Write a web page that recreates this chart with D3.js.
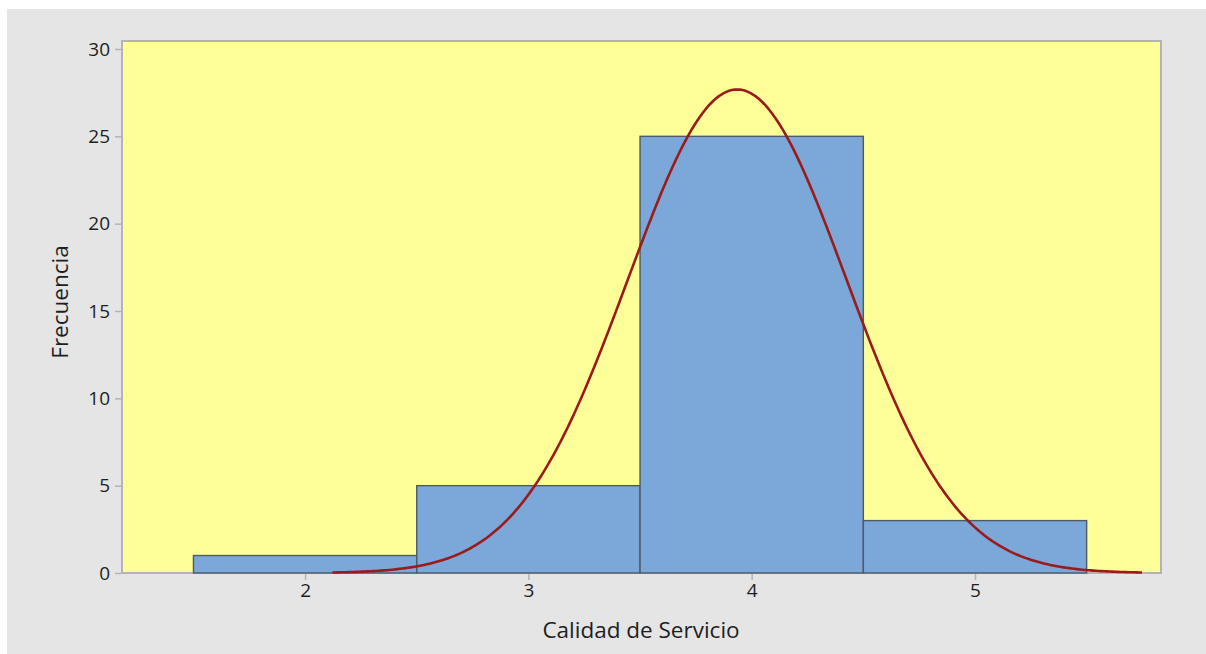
<!DOCTYPE html>
<html>
<head>
<meta charset="utf-8">
<script src="https://cdn.jsdelivr.net/npm/d3@7"></script>
<style>
  html, body { margin: 0; padding: 0; background: #ffffff; }
  svg { display: block; }
  text { font-family: "Open Sans", "Noto Sans", sans-serif; fill: #1e1e1e; font-weight: 500; }
</style>
</head>
<body>
<svg id="chart" width="1206" height="654"></svg>
<script>
// Histogram bins (lower edge, upper edge) and counts
const binStart = [1.5, 2.5, 3.5, 4.5];
const binEnd   = [2.5, 3.5, 4.5, 5.5];
const counts   = [1, 5, 25, 3];

// Fitted normal curve parameters
const fitMean = 3.935;
const fitSd = 0.49;
const binWidth = 1;

const xTicks = [2, 3, 4, 5];
const yTicks = [0, 5, 10, 15, 20, 25, 30];

const W = 1206, H = 654;
const plot = { left: 122, top: 41, right: 1161, bottom: 573 };

const svg = d3.select("#chart");

// outer panel
svg.append("rect").attr("x", 7).attr("y", 9).attr("width", W - 7).attr("height", H - 9)
  .attr("fill", "#e5e5e5");

const x = d3.scaleLinear().domain([1.18, 5.833]).range([plot.left, plot.right]);
const y = d3.scaleLinear().domain([0, 30]).range([plot.bottom, 49]);

// plot background
svg.append("rect")
  .attr("x", plot.left).attr("y", plot.top)
  .attr("width", plot.right - plot.left).attr("height", plot.bottom - plot.top)
  .attr("fill", "#ffff99")
  .attr("stroke", "#b4b4b4").attr("stroke-width", 2);

// bars
const bins = counts.map((c, i) => ({ x0: binStart[i], x1: binEnd[i], n: c }));
svg.append("g").selectAll("rect").data(bins).join("rect")
  .attr("x", d => x(d.x0))
  .attr("y", d => y(d.n))
  .attr("width", d => x(d.x1) - x(d.x0))
  .attr("height", d => y(0) - y(d.n))
  .attr("fill", "#7ba7d9")
  .attr("stroke", "#4d5a68")
  .attr("stroke-width", 1.4);

// normal curve scaled to counts
const n = d3.sum(counts);
const density = v => n * binWidth / (fitSd * Math.sqrt(2 * Math.PI)) *
  Math.exp(-0.5 * Math.pow((v - fitMean) / fitSd, 2));
const lo = fitMean - 3.7 * fitSd, hi = fitMean + 3.7 * fitSd;
const pts = d3.range(0, 301).map(i => lo + (hi - lo) * i / 300);
svg.append("path")
  .datum(pts)
  .attr("fill", "none")
  .attr("stroke", "#9b1b1b")
  .attr("stroke-width", 2.6)
  .attr("d", d3.line().x(v => x(v)).y(v => y(density(v))));

// y axis
const yAxis = d3.axisLeft(y).tickValues(yTicks).tickFormat(d3.format("d")).tickSize(6).tickPadding(5);
const gy = svg.append("g").attr("transform", `translate(${plot.left - 1},0)`).call(yAxis);
gy.select(".domain").remove();
gy.selectAll(".tick line").attr("stroke", "#b4b4b4").attr("stroke-width", 1.5);
gy.selectAll(".tick text").style("font-size", "19px").attr("fill", "#1e1e1e");

// x axis
const xAxis = d3.axisBottom(x).tickValues(xTicks).tickFormat(d3.format("d")).tickSize(6).tickPadding(4);
const gx = svg.append("g").attr("transform", `translate(0,${plot.bottom + 1})`).call(xAxis);
gx.select(".domain").remove();
gx.selectAll(".tick line").attr("stroke", "#b4b4b4").attr("stroke-width", 1.5);
gx.selectAll(".tick text").style("font-size", "19px").attr("fill", "#1e1e1e");

// axis titles
svg.append("text")
  .attr("x", 641).attr("y", 638)
  .attr("text-anchor", "middle")
  .style("font-size", "22.5px")
  .text("Calidad de Servicio");

svg.append("text")
  .attr("transform", `translate(68,${302}) rotate(-90)`)
  .attr("text-anchor", "middle")
  .style("font-size", "22.5px")
  .text("Frecuencia");
</script>
</body>
</html>
